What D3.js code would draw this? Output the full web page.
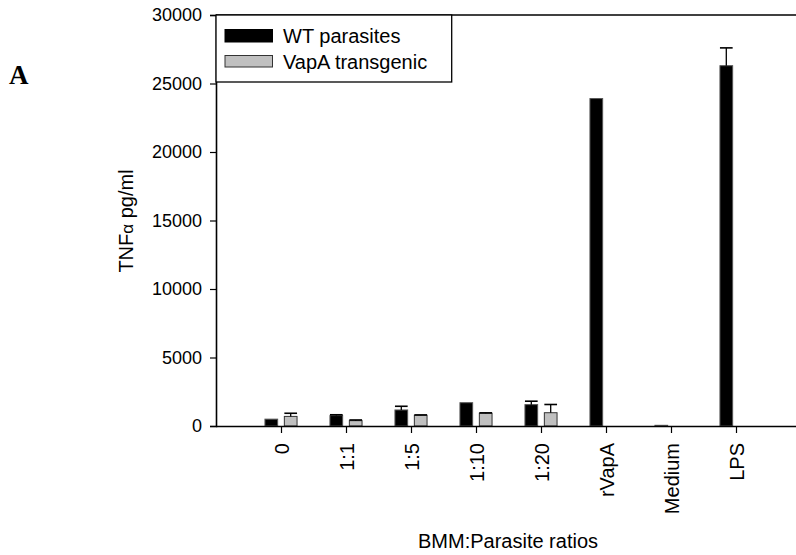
<!DOCTYPE html>
<html><head><meta charset="utf-8">
<script src="https://cdn.jsdelivr.net/npm/d3@7"></script>
<style>body{margin:0;background:#fff}svg{display:block}text{font-family:Arial,"Liberation Sans",sans-serif;fill:#000}</style>
</head><body><svg id="c" width="796" height="555"></svg>
<script>
const categories = ["0","1:1","1:5","1:10","1:20","rVapA","Medium","LPS"];
const wtValues   = [500, 760, 1170, 1700, 1560, 23900, 50, 26300];
const wtErrors   = [0, 60, 270, 0, 250, 0, 0, 1300];
const vapValues  = [700, 390, 780, 930, 970, 0, 0, 0];
const vapErrors  = [230, 50, 30, 30, 600, 0, 0, 0];
const seriesNames = ["WT parasites", "VapA transgenic"];
const yTicks = [0, 5000, 10000, 15000, 20000, 25000, 30000];

(function () {
const svg = d3.select("#c");
const pLeft = 216, pRight = 801, pTop = 15, pBottom = 426;
const x = d3.scaleLinear().domain([0, categories.length + 1]).range([pLeft, pRight]);
const y = d3.scaleLinear().domain([0, 30000]).range([pBottom, pTop]);
const bw = 12.7, off = 9.7;
const colors = ["#000000", "#c0c0c0"];

// frame top line
svg.append("line").attr("x1", pLeft).attr("x2", 796).attr("y1", pTop).attr("y2", pTop)
  .attr("stroke", "#000").attr("stroke-width", 1.6);

// y axis
const ya = svg.append("g").attr("transform", `translate(${pLeft},0)`)
  .call(d3.axisLeft(y).tickValues(yTicks).tickSize(6).tickPadding(8).tickFormat(d3.format("d")));
ya.select(".domain").attr("stroke-width", 1.6);
ya.selectAll(".tick line").attr("stroke-width", 1.2);
ya.selectAll("text").style("font-size", "18px").style("font-family", "Arial, 'Liberation Sans', sans-serif");

// bars
const data = categories.map((c, i) => ({c, i, wt: wtValues[i], wtE: wtErrors[i], vap: vapValues[i], vapE: vapErrors[i]}));
const series = [
  {key: "wt", err: "wtE", dx: -off, fill: colors[0], stroke: "#555"},
  {key: "vap", err: "vapE", dx: off, fill: colors[1], stroke: "#333"}
];
series.forEach(s => {
  const g = svg.append("g");
  const pts = data.filter(d => d[s.key] > 0);
  g.selectAll("rect").data(pts).join("rect")
    .attr("x", d => x(d.i + 1) + s.dx - bw / 2)
    .attr("y", d => y(d[s.key]))
    .attr("width", bw)
    .attr("height", d => y(0) - y(d[s.key]))
    .attr("fill", s.fill).attr("stroke", s.stroke).attr("stroke-width", 1);
  const eb = pts.filter(d => d[s.err] > 0);
  g.selectAll("line.v").data(eb).join("line").attr("class", "v")
    .attr("x1", d => x(d.i + 1) + s.dx).attr("x2", d => x(d.i + 1) + s.dx)
    .attr("y1", d => y(d[s.key])).attr("y2", d => y(d[s.key] + d[s.err]))
    .attr("stroke", "#000").attr("stroke-width", 1.3);
  g.selectAll("line.c").data(eb).join("line").attr("class", "c")
    .attr("x1", d => x(d.i + 1) + s.dx - bw / 2).attr("x2", d => x(d.i + 1) + s.dx + bw / 2)
    .attr("y1", d => y(d[s.key] + d[s.err])).attr("y2", d => y(d[s.key] + d[s.err]))
    .attr("stroke", "#000").attr("stroke-width", 1.6);
});

// x axis
const xa = svg.append("g").attr("transform", `translate(0,${pBottom})`)
  .call(d3.axisBottom(x).tickValues(d3.range(1, categories.length + 1)).tickSize(7).tickSizeOuter(0)
    .tickFormat(d => categories[d - 1]));
xa.select(".domain").attr("d", `M${pLeft},0.5H796`).attr("stroke-width", 1.6);
xa.selectAll(".tick line").attr("stroke-width", 1.2);
xa.selectAll("text")
  .style("font-size", "20px").style("font-family", "Arial, 'Liberation Sans', sans-serif")
  .attr("transform", "rotate(-90)")
  .attr("text-anchor", "end")
  .attr("x", -17).attr("y", 0).attr("dy", "0.36em");

// axis titles
svg.append("text").attr("x", 508).attr("y", 548).attr("text-anchor", "middle")
  .style("font-size", "20px").text("BMM:Parasite ratios");
const yt = svg.append("text").attr("transform", "translate(133,221) rotate(-90)").attr("text-anchor", "middle")
  .style("font-size", "20px");
yt.append("tspan").text("TNF");
yt.append("tspan").style("font-size", "17px").text("α");
yt.append("tspan").text(" pg/ml");

// panel label
svg.append("text").attr("x", 9).attr("y", 84).style("font-family", "'Liberation Serif','Times New Roman',serif")
  .style("font-weight", "bold").style("font-size", "27px").text("A");

// legend
const lg = svg.append("g");
lg.append("rect").attr("x", pLeft).attr("y", pTop).attr("width", 235.7).attr("height", 67)
  .attr("fill", "#fff").attr("stroke", "#000").attr("stroke-width", 1.3);
seriesNames.forEach((n, i) => {
  lg.append("rect").attr("x", 225).attr("y", i === 0 ? 29.5 : 55.5).attr("width", 47.5).attr("height", i === 0 ? 12.5 : 11.5)
    .attr("fill", colors[i]).attr("stroke", i === 0 ? "#000" : "#333").attr("stroke-width", 1);
  lg.append("text").attr("x", 283).attr("y", i === 0 ? 43 : 68.5).style("font-size", "20px").text(n);
});
})();
</script></body></html>
